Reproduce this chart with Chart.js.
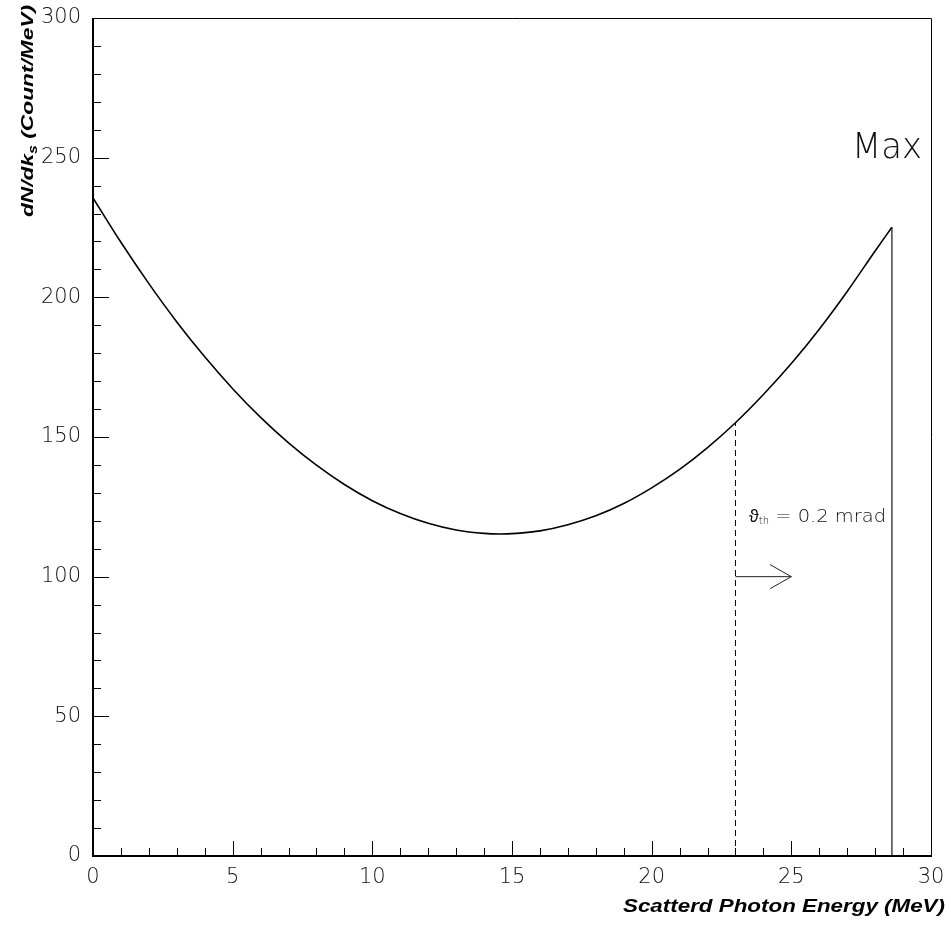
<!DOCTYPE html>
<html>
<head>
<meta charset="utf-8">
<script src="https://cdn.jsdelivr.net/npm/chart.js@4.4.1/dist/chart.umd.min.js"></script>
<style>
html,body{margin:0;padding:0;background:#fff;}
#c{display:block;}
</style>
</head>
<body>
<canvas id="c" width="951" height="945"></canvas>
<script>
// ---- data ----
const energy = [0,1,2,3,4,5,6,7,8,9,10,11,12,13,14,14.6,15,16,17,18,19,20,21,22,23,24,25,26,27,28,28.6];
const dNdk   = [235.6,219.7,204.9,191.2,178.7,167.3,157.0,147.9,139.9,133.0,127.2,122.6,119.1,116.7,115.5,115.3,115.4,116.4,118.6,121.8,126.2,131.8,138.4,146.2,155.1,165.2,176.3,188.6,202.1,216.6,225.1];
const maxEnergy = 28.6;      // kinematic maximum
const maxValue = 225.1;
const thresholdEnergy = 23;  // theta_th = 0.2 mrad
const thresholdValue = 155.1;
const arrowY = 100;
const arrowEnd = 25;
const arrowHeadX = 24.24;
const arrowHeadHalf = 4.3;
const xTicks = [0,5,10,15,20,25,30];
const yTicks = [0,50,100,150,200,250,300];
const xTitle = "Scatterd Photon Energy (MeV)";
const yTitleMain = "dN/dk";
const yTitleSub = "s";
const yTitleRest = " (Count/MeV)";
const maxLabel = "Max";
const thetaLabel = "\u03D1";
const thetaSub = "th";
const thetaRest = " = 0.2 mrad";

const curve = energy.map((e,i)=>({x:e,y:dNdk[i]}));
const LIGHT = "'DejaVu Sans','Liberation Sans',sans-serif";
const BOLD = "'Liberation Sans',Arial,sans-serif";

const framePlugin = {
  id:'frame',
  afterDraw(chart){
    const ctx = chart.ctx, a = chart.chartArea;
    const xs = chart.scales.x, ys = chart.scales.y;
    ctx.save();
    ctx.strokeStyle = '#000';
    ctx.lineWidth = 1;
    ctx.beginPath();
    ctx.moveTo(a.left, a.top+0.5); ctx.lineTo(a.right+0.5, a.top+0.5); ctx.lineTo(a.right+0.5, a.bottom);
    ctx.stroke();
    ctx.lineWidth = 2;
    ctx.beginPath();
    ctx.moveTo(a.left, a.top); ctx.lineTo(a.left, a.bottom); ctx.lineTo(a.right+1, a.bottom);
    ctx.stroke();
    ctx.lineWidth = 1;
    ctx.beginPath();
    for (let v=0; v<=30; v+=1){
      const px = Math.round(xs.getPixelForValue(v))+0.5;
      const len = (v%5===0)?15:8;
      ctx.moveTo(px, a.bottom); ctx.lineTo(px, a.bottom-len);
    }
    for (let v=0; v<=300; v+=10){
      const py = Math.round(ys.getPixelForValue(v))+0.5;
      const len = (v%50===0)?16:8;
      ctx.moveTo(a.left, py); ctx.lineTo(a.left+len, py);
    }
    ctx.stroke();

    ctx.fillStyle = '#000';
    ctx.font = "italic bold 18px " + BOLD;
    ctx.textBaseline = 'alphabetic';
    ctx.textAlign = 'left';
    let w = ctx.measureText(xTitle).width;
    ctx.save();
    ctx.translate(623, 912);
    ctx.scale(322/w, 1);
    ctx.fillText(xTitle, 0, 0);
    ctx.restore();

    ctx.save();
    ctx.translate(33, 217);
    ctx.rotate(-Math.PI/2);
    ctx.font = "italic bold 17px " + BOLD;
    const w1 = ctx.measureText(yTitleMain).width;
    const w3 = ctx.measureText(yTitleRest).width;
    ctx.font = "italic bold 12px " + BOLD;
    const w2 = ctx.measureText(yTitleSub).width;
    const sx = 212/(w1+w2+w3);
    ctx.scale(sx,1);
    ctx.font = "italic bold 17px " + BOLD;
    ctx.fillText(yTitleMain, 0, 0);
    ctx.font = "italic bold 12px " + BOLD;
    ctx.fillText(yTitleSub, w1, 4);
    ctx.font = "italic bold 17px " + BOLD;
    ctx.fillText(yTitleRest, w1+w2, 0);
    ctx.restore();

    ctx.fillStyle = '#111';
    ctx.font = "200 35px " + LIGHT;
    ctx.textAlign = 'left';
    const mw = ctx.measureText(maxLabel).width;
    ctx.save();
    ctx.translate(852, 158);
    ctx.scale(70/mw, 1);
    ctx.fillText(maxLabel, 0, 0);
    ctx.restore();

    ctx.font = "200 18px " + LIGHT;
    ctx.fillText(thetaLabel, 749, 522);
    const tw = ctx.measureText(thetaLabel).width;
    ctx.font = "200 10px " + LIGHT;
    ctx.fillText(thetaSub, 749+tw, 524);
    const sw = ctx.measureText(thetaSub).width;
    ctx.font = "200 18px " + LIGHT;
    ctx.save();
    ctx.translate(749+tw+sw, 522);
    const rw = ctx.measureText(thetaRest).width;
    ctx.scale((886-749-tw-sw)/rw, 1);
    ctx.fillText(thetaRest, 0, 0);
    ctx.restore();
    ctx.restore();
  }
};

new Chart(document.getElementById('c'), {
  type:'scatter',
  data:{
    datasets:[
      {data:curve, showLine:true, borderColor:'#000', borderWidth:1.6, pointRadius:0, tension:0.4, cubicInterpolationMode:'monotone'},
      {data:[{x:maxEnergy,y:maxValue},{x:maxEnergy,y:0}], showLine:true, borderColor:'#444', borderWidth:1.5, pointRadius:0},
      {data:[{x:thresholdEnergy,y:0},{x:thresholdEnergy,y:thresholdValue}], showLine:true, borderColor:'#000', borderWidth:1, borderDash:[6,4], pointRadius:0},
      {data:[{x:thresholdEnergy,y:arrowY},{x:arrowEnd,y:arrowY}], showLine:true, borderColor:'#222', borderWidth:1, pointRadius:0},
      {data:[{x:arrowHeadX,y:arrowY+arrowHeadHalf},{x:arrowEnd,y:arrowY},{x:arrowHeadX,y:arrowY-arrowHeadHalf}], showLine:true, borderColor:'#222', borderWidth:1, pointRadius:0}
    ]
  },
  options:{
    responsive:false,
    animation:false,
    devicePixelRatio:1,
    layout:{padding:{top:18,right:20,left:0,bottom:0}},
    plugins:{legend:{display:false},tooltip:{enabled:false}},
    scales:{
      x:{type:'linear',min:0,max:30,
        afterBuildTicks(s){s.ticks = xTicks.map(v=>({value:v}));},
        afterFit(s){s.height = 89; s.paddingLeft = 0; s.paddingRight = 0;},
        grid:{display:false,drawTicks:false},
        border:{display:false},
        ticks:{padding:9,color:'#111',font:{family:LIGHT,size:21,weight:'200'},maxRotation:0}
      },
      y:{type:'linear',min:0,max:300,
        afterBuildTicks(s){s.ticks = yTicks.map(v=>({value:v}));},
        afterFit(s){s.width = 93; s.paddingTop = 0; s.paddingBottom = 0;},
        grid:{display:false,drawTicks:false},
        border:{display:false},
        ticks:{padding:12,color:'#111',font:{family:LIGHT,size:21,weight:'200'}}
      }
    }
  },
  plugins:[framePlugin]
});
</script>
</body>
</html>
